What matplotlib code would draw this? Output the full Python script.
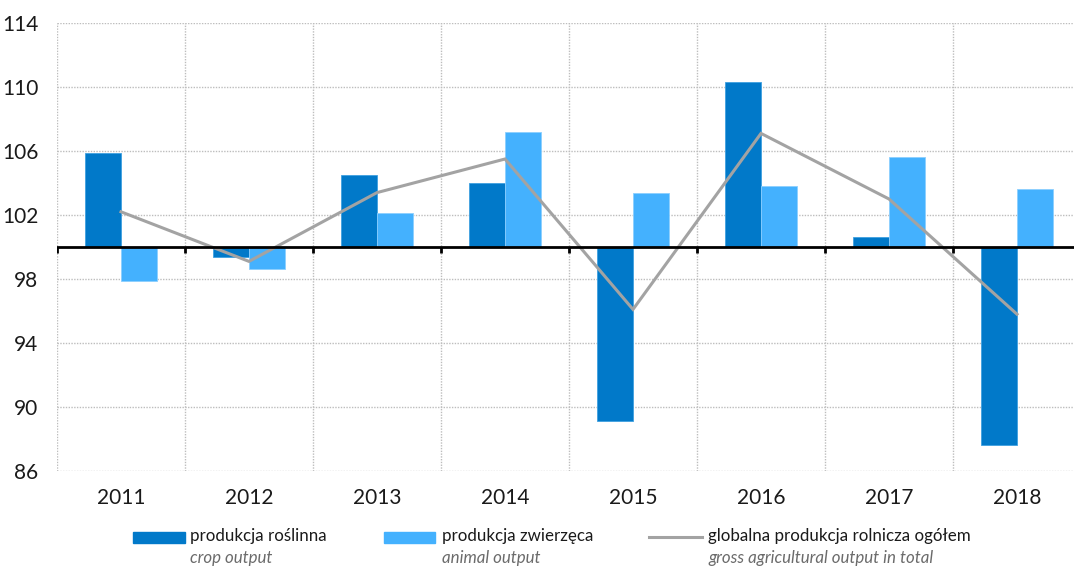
import numpy as np
import matplotlib
matplotlib.use("Agg")
import matplotlib.pyplot as plt
from matplotlib.patches import Rectangle
from matplotlib.lines import Line2D

plt.rcParams['font.family'] = ['Lato', 'DejaVu Sans']

years = ["2011", "2012", "2013", "2014", "2015", "2016", "2017", "2018"]
crop = [105.9, 99.4, 104.5, 104.0, 89.1, 110.3, 100.6, 87.6]
animal = [97.9, 98.6, 102.1, 107.2, 103.4, 103.8, 105.6, 103.6]
total = [102.2, 99.1, 103.4, 105.5, 96.1, 107.1, 103.0, 95.8]
yticks = [86, 90, 94, 98, 102, 106, 110, 114]

base = 100
crop_color = "#0179C9"
animal_color = "#44B1FE"
line_color = "#A3A3A3"
grid_color = "#BDBDBD"

W, H = 1074, 568
fig = plt.figure(figsize=(W / 100, H / 100), dpi=100)
ax = fig.add_axes([57 / W, (H - 471) / H, 1024 / W, 448 / H])

x = np.arange(len(years))
bw = 0.285

ax.bar(x - bw / 2, np.array(crop) - base, bw, bottom=base, color=crop_color,
       edgecolor="#3FA0E0", linewidth=0.6, zorder=3)
ax.bar(x + bw / 2, np.array(animal) - base, bw, bottom=base, color=animal_color,
       edgecolor="#8CCFFF", linewidth=0.6, zorder=3)
ax.plot(x, total, color=line_color, lw=2.2, zorder=4, solid_joinstyle="miter")

ax.set_xlim(-0.5, len(years) - 0.5)
ax.set_ylim(86, 114)

# dotted grid
for yv in yticks:
    ax.axhline(yv, color=grid_color, lw=1, ls=(0, (1, 1)), zorder=1)
for b in np.arange(-0.5, len(years), 1.0):
    ax.axvline(b, color=grid_color, lw=1, ls=(0, (1, 1)), zorder=1)

# baseline at 100 with small downward ticks at category boundaries
ax.axhline(base, color="black", lw=2, zorder=5)
for b in np.arange(-0.5, len(years), 1.0):
    ax.plot([b, b], [base, base - 0.35], color="black", lw=2, zorder=5,
            solid_capstyle="butt")

for s in ax.spines.values():
    s.set_visible(False)
ax.set_yticks(yticks)
ax.set_yticklabels([str(v) for v in yticks], fontsize=15)
ax.set_xticks(x)
ax.set_xticklabels(years, fontsize=15)
ax.tick_params(axis="both", length=0, colors="#1a1a1a")
ax.tick_params(axis="y", pad=13.5)
ax.tick_params(axis="x", pad=12)

# legend drawn in figure pixel coordinates
def fx(px):
    return px / W

def fy(py):
    return 1 - py / H

fig.add_artist(Rectangle((fx(133), fy(543)), fx(185) - fx(133), fy(532) - fy(543),
                         transform=fig.transFigure, color=crop_color))
fig.add_artist(Rectangle((fx(384), fy(543)), fx(435) - fx(384), fy(532) - fy(543),
                         transform=fig.transFigure, color=animal_color))
fig.add_artist(Line2D([fx(649), fx(702)], [fy(537), fy(537)],
                      transform=fig.transFigure, color=line_color, lw=2.2))

entries = [(190, "produkcja roślinna", "crop output"),
           (442, "produkcja zwierzęca", "animal output"),
           (708, "globalna produkcja rolnicza ogółem", "gross agricultural output in total")]
for px, pl, en in entries:
    fig.text(fx(px), fy(536), pl, fontsize=12.2, color="#1a1a1a", va="center", ha="left")
    fig.text(fx(px), fy(558), en, fontsize=12.2, color="#6b6b6b", style="italic",
             va="center", ha="left")

fig.savefig("out.png", dpi=100)
